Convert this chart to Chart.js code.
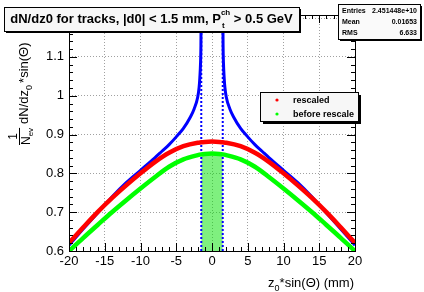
<!DOCTYPE html>
<html><head><meta charset="utf-8">
<script src="https://cdn.jsdelivr.net/npm/chart.js@4.4.1/dist/chart.umd.min.js"></script>
<style>html,body{margin:0;padding:0;background:#fff;}canvas{display:block;}</style>
</head><body>
<canvas id="c" width="424" height="292"></canvas>
<script>
// ---- data ----
const xTicks = [-20, -15, -10, -5, 0, 5, 10, 15, 20];
const yTicks = [0.6, 0.7, 0.8, 0.9, 1.0, 1.1, 1.2];
const smoothX = [-20,-18,-16,-14,-12,-10,-8,-6,-4,-2,-1.5,-1,0,1,1.5,2,4,6,8,10,12,14,16,18,20];
const rescaled = [0.621,0.661,0.700,0.736,0.769,0.800,0.829,0.853,0.870,0.879,0.880,0.881,0.882,0.881,0.880,0.879,0.870,0.853,0.829,0.800,0.769,0.736,0.700,0.661,0.621];
const beforeRescale = [0.600,0.634,0.667,0.700,0.731,0.761,0.790,0.817,0.836,0.847,0.849,0.850,0.851,0.850,0.849,0.847,0.836,0.817,0.790,0.761,0.731,0.700,0.667,0.634,0.600];
const rawX = [-20,-18,-16,-14,-12,-10,-8,-7,-6,-5,-4,-3,-2.5,-2,-1.8,-1.7,-1.6,-1.55,-1.52,0,1.52,1.55,1.6,1.7,1.8,2,2.5,3,4,5,6,7,8,10,12,14,16,18,20];
const rawY = [0.615,0.657,0.698,0.739,0.776,0.808,0.840,0.857,0.874,0.894,0.916,0.946,0.966,0.996,1.022,1.047,1.086,1.130,1.210,null,1.210,1.130,1.086,1.047,1.022,0.996,0.966,0.946,0.916,0.894,0.874,0.857,0.840,0.808,0.776,0.739,0.698,0.657,0.615];
const windowEdges = [-1.5, 1.5];
const xRange = [-20, 20];
const yRange = [0.6, 1.208];
const legendLabels = ["rescaled", "before rescale"];
const statNames = ["Entries", "Mean", "RMS"];
const statValues = ["2.451448e+10", "0.01653", "6.633"];

// ---- build datasets ----
const pts = (xs, ys) => xs.map((x, i) => ({x: x, y: ys[i]}));
const fillX = smoothX.filter(x => x >= windowEdges[0] && x <= windowEdges[1]);
const fillY = fillX.map(x => beforeRescale[smoothX.indexOf(x)]);

const FONT = "'Liberation Sans', Arial, Helvetica, sans-serif";

const decor = {
  id: 'decor',
  afterDatasetsDraw(chart) {
    const ctx = chart.ctx;
    const {left, right, top, bottom} = chart.chartArea;
    const xs = chart.scales.x, ys = chart.scales.y;
    ctx.save();
    ctx.strokeStyle = '#000'; ctx.lineWidth = 1;
    ctx.strokeRect(Math.round(left) + 0.5, Math.round(top) + 0.5, Math.round(right - left), Math.round(bottom - top));
    const line = (a, b, c, d) => { ctx.beginPath(); ctx.moveTo(a, b); ctx.lineTo(c, d); ctx.stroke(); };
    for (let v = xRange[0]; v <= xRange[1]; v += 1) {
      const px = Math.round(xs.getPixelForValue(v)) + 0.5;
      const L = (v % 5 === 0) ? 8 : 4;
      line(px, bottom, px, bottom - L);
      line(px, top, px, top + L);
    }
    for (let i = 0; ; i++) {
      const v = yRange[0] + i * 0.02;
      if (v > yRange[1] + 1e-9) break;
      const py = Math.round(ys.getPixelForValue(v)) + 0.5;
      const L = (i % 5 === 0) ? 8 : 4;
      line(left, py, left + L, py);
      line(right, py, right - L, py);
    }
    ctx.restore();
  },
  afterDraw(chart) {
    const ctx = chart.ctx;
    ctx.save();
    ctx.fillStyle = '#000';
    ctx.textBaseline = 'alphabetic';
    // x axis title
    const p1 = 'z', p3 = '*sin(\u0398) (mm)';
    ctx.font = `13px ${FONT}`; const w1 = ctx.measureText(p1).width, w3 = ctx.measureText(p3).width;
    ctx.font = `9px ${FONT}`; const w2 = ctx.measureText('0').width;
    let xr = 354, x0 = xr - (w1 + w2 + w3);
    ctx.font = `13px ${FONT}`; ctx.fillText(p1, x0, 287);
    ctx.font = `9px ${FONT}`; ctx.fillText('0', x0 + w1, 291);
    ctx.font = `13px ${FONT}`; ctx.fillText(p3, x0 + w1 + w2, 287);

    // y axis title (rotated)
    ctx.save();
    ctx.rotate(-Math.PI / 2);
    const yb = 145;
    ctx.font = `12px ${FONT}`;
    const wN = ctx.measureText('N').width;
    ctx.font = `8px ${FONT}`;
    const wev = ctx.measureText('ev').width;
    const fracW = wN + wev;
    ctx.font = `12px ${FONT}`;
    const w1m = ctx.measureText('1').width;
    ctx.fillText('1', -yb + (fracW - w1m) / 2, 17);
    ctx.fillText('N', -yb, 30);
    ctx.font = `8px ${FONT}`;
    ctx.fillText('ev', -yb + wN, 33);
    ctx.fillRect(-yb, 19, fracW, 1);
    let u = -yb + fracW + 4;
    ctx.font = `13px ${FONT}`;
    ctx.fillText('dN/dz', u, 28); u += ctx.measureText('dN/dz').width;
    ctx.font = `9px ${FONT}`;
    ctx.fillText('0', u, 32); u += ctx.measureText('0').width + 2;
    ctx.font = `13px ${FONT}`;
    ctx.fillText('*sin(\u0398)', u, 28);
    ctx.restore();

    // legend box
    const lg = {x: 260, y: 92, w: 98, h: 29};
    ctx.fillStyle = '#000';
    ctx.fillRect(lg.x + 3, lg.y + 3, lg.w, lg.h);
    ctx.fillStyle = '#f7f7f7';
    ctx.fillRect(lg.x, lg.y, lg.w, lg.h);
    ctx.strokeStyle = '#000'; ctx.lineWidth = 1;
    ctx.strokeRect(lg.x + 0.5, lg.y + 0.5, lg.w, lg.h);
    const lcol = ['#ff0000', '#00ff00'];
    ctx.font = `bold 9px ${FONT}`;
    legendLabels.forEach((t, i) => {
      const yy = lg.y + 8 + i * 14;
      ctx.fillStyle = lcol[i];
      ctx.beginPath(); ctx.arc(lg.x + 17, yy, 1.6, 0, Math.PI * 2); ctx.fill();
      ctx.fillStyle = '#000';
      ctx.textBaseline = 'middle';
      ctx.fillText(t, lg.x + 33, yy + 0.5);
    });
    ctx.textBaseline = 'alphabetic';

    // title box
    const tb = {x: 4, y: 7, w: 295, h: 24};
    ctx.fillStyle = '#000';
    ctx.fillRect(tb.x + 2, tb.y + 2, tb.w, tb.h);
    ctx.fillStyle = '#f7f7f7';
    ctx.fillRect(tb.x, tb.y, tb.w, tb.h);
    ctx.strokeRect(tb.x + 0.5, tb.y + 0.5, tb.w, tb.h);
    ctx.fillStyle = '#000';
    const tA = 'dN/dz0 for tracks, |d0| < 1.5 mm, P', tB = 'ch', tC = 't', tD = ' > 0.5 GeV';
    ctx.font = `bold 13px ${FONT}`; const wA = ctx.measureText(tA).width, wD = ctx.measureText(tD).width;
    ctx.font = `bold 8px ${FONT}`; const wB = ctx.measureText(tB).width;
    let tx = tb.x + (tb.w - (wA + wB + wD)) / 2;
    ctx.font = `bold 13px ${FONT}`; ctx.fillText(tA, tx, 23); tx += wA;
    ctx.font = `bold 8px ${FONT}`; ctx.fillText(tB, tx, 15);
    ctx.fillText(tC, tx + 1, 28); tx += wB;
    ctx.font = `bold 13px ${FONT}`; ctx.fillText(tD, tx, 23);

    // stats box
    const sb = {x: 338, y: 4, w: 82, h: 35};
    ctx.fillStyle = '#000';
    ctx.fillRect(sb.x + 2, sb.y + 2, sb.w, sb.h);
    ctx.fillStyle = '#fafafa';
    ctx.fillRect(sb.x, sb.y, sb.w, sb.h);
    ctx.strokeRect(sb.x + 0.5, sb.y + 0.5, sb.w, sb.h);
    ctx.fillStyle = '#000';
    ctx.font = `bold 7px ${FONT}`;
    ctx.textBaseline = 'middle';
    statNames.forEach((n, i) => {
      const yy = sb.y + 7 + i * 11;
      ctx.textAlign = 'left'; ctx.fillText(n, sb.x + 4, yy);
      ctx.textAlign = 'right'; ctx.fillText(statValues[i], sb.x + sb.w - 3, yy);
    });
    ctx.restore();
  }
};

const gridOpts = {color: '#a0a0a0', lineWidth: 1, drawTicks: false};
const borderOpts = {display: false, dash: [1, 2]};

new Chart(document.getElementById('c'), {
  type: 'scatter',
  data: {
    datasets: [
      { label: 'window', data: pts(fillX, fillY), showLine: true, fill: {value: yRange[0]},
        backgroundColor: 'rgba(0,225,0,0.5)', borderWidth: 0, pointRadius: 0, order: 6 },
      { label: 'raw', data: pts(rawX, rawY), showLine: true, spanGaps: false, borderColor: '#0000ff',
        borderWidth: 3, pointRadius: 0, cubicInterpolationMode: 'monotone', order: 5 },
      { label: 'edgeL', data: [{x: windowEdges[0], y: yRange[0]}, {x: windowEdges[0], y: yRange[1]}], showLine: true,
        borderColor: '#0000ff', borderWidth: 2, borderDash: [2, 2], pointRadius: 0, order: 4 },
      { label: 'edgeR', data: [{x: windowEdges[1], y: yRange[0]}, {x: windowEdges[1], y: yRange[1]}], showLine: true,
        borderColor: '#0000ff', borderWidth: 2, borderDash: [2, 2], pointRadius: 0, order: 3 },
      { label: legendLabels[0], data: pts(smoothX, rescaled), showLine: true, borderColor: '#ff0000',
        borderWidth: 4.5, pointRadius: 0, cubicInterpolationMode: 'monotone', order: 2 },
      { label: legendLabels[1], data: pts(smoothX, beforeRescale), showLine: true, borderColor: '#00ff00',
        borderWidth: 4.5, pointRadius: 0, cubicInterpolationMode: 'monotone', order: 1 }
    ]
  },
  options: {
    responsive: false, animation: false, devicePixelRatio: 1,
    layout: {padding: {left: 0, right: 69, top: 15, bottom: 0}},
    plugins: {legend: {display: false}, tooltip: {enabled: false}},
    scales: {
      x: {
        type: 'linear', min: xRange[0], max: xRange[1],
        afterFit(s) { s.height = 41; },
        afterBuildTicks(s) { s.ticks = xTicks.map(v => ({value: v})); },
        grid: gridOpts, border: borderOpts,
        ticks: {font: {family: FONT, size: 13}, color: '#000', padding: 3, maxRotation: 0, autoSkip: false,
                callback: v => String(v)}
      },
      y: {
        type: 'linear', min: yRange[0], max: yRange[1],
        afterFit(s) { s.width = 69; },
        afterBuildTicks(s) { s.ticks = yTicks.map(v => ({value: v})); },
        grid: gridOpts, border: borderOpts,
        ticks: {font: {family: FONT, size: 13}, color: '#000', padding: 5, autoSkip: false,
                callback: v => String(+v.toFixed(1))}
      }
    }
  },
  plugins: [decor]
});
</script>
</body></html>
